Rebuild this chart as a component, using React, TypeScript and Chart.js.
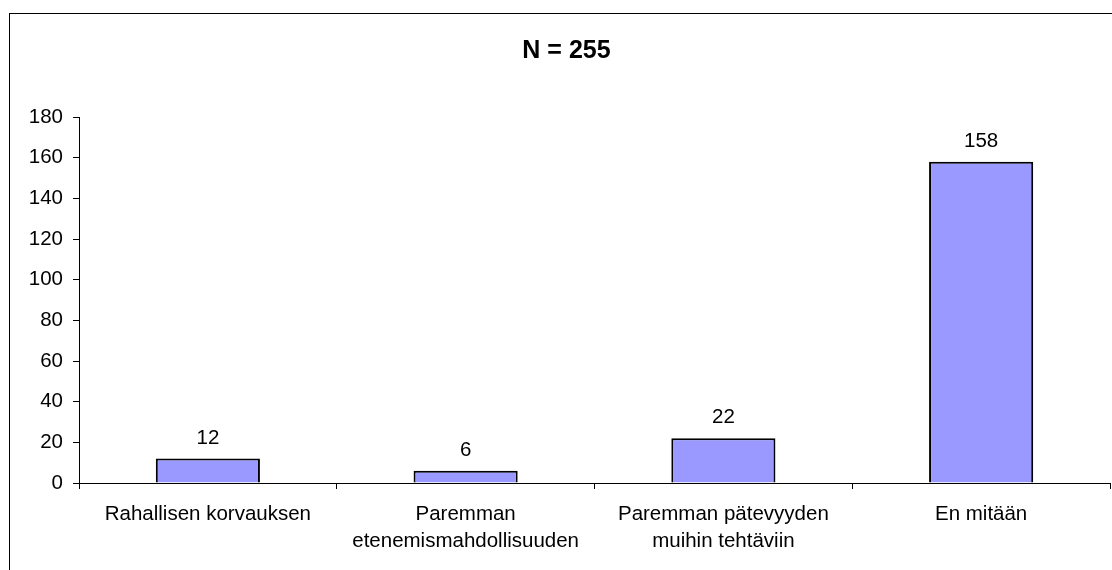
import React, { useEffect, useRef } from "react";
import { Chart, registerables } from "chart.js";

Chart.register(...registerables);

const categories: (string | string[])[] = [
  "Rahallisen korvauksen",
  ["Paremman", "etenemismahdollisuuden"],
  ["Paremman pätevyyden", "muihin tehtäviin"],
  "En mitään",
];
const values: number[] = [12, 6, 22, 158];
const titleText = "N = 255";
const yMin = 0;
const yMax = 180;
const yStep = 20;

const FONT = "'Liberation Sans', Arial, Helvetica, sans-serif";
const FS = 20.5;

const valueLabels = {
  id: "valueLabels",
  afterDatasetsDraw(chart: any) {
    const ctx = chart.ctx;
    const meta = chart.getDatasetMeta(0);
    ctx.save();
    ctx.font = `${FS}px ${FONT}`;
    ctx.fillStyle = "#000";
    ctx.textAlign = "center";
    ctx.textBaseline = "alphabetic";
    meta.data.forEach((bar: any, i: number) => {
      ctx.fillText(String(values[i]), bar.x, bar.y - 15);
    });
    ctx.restore();
  },
};

export default function App() {
  const ref = useRef<HTMLCanvasElement>(null);
  useEffect(() => {
    if (!ref.current) return;
    const chart = new Chart(ref.current, {
      type: "bar",
      data: {
        labels: categories,
        datasets: [
          {
            data: values,
            backgroundColor: "#9999FF",
            borderColor: "#000000",
            borderWidth: 2,
            barPercentage: 0.404,
            categoryPercentage: 1,
          },
        ],
      },
      options: {
        responsive: false,
        animation: false,
        devicePixelRatio: 1,
        layout: { padding: 0 },
        font: { family: FONT, size: FS },
        plugins: {
          legend: { display: false },
          tooltip: { enabled: false },
          title: {
            display: true,
            text: titleText,
            color: "#000",
            font: { family: FONT, size: 25, weight: "bold", lineHeight: 1.2 },
            padding: { top: 22, bottom: 51 },
          },
        },
        scales: {
          x: {
            grid: {
              display: true,
              offset: true,
              drawOnChartArea: false,
              drawTicks: true,
              tickLength: 6,
              color: "#000",
            },
            border: { display: true, color: "#000", width: 1 },
            ticks: {
              color: "#000",
              font: { family: FONT, size: FS, lineHeight: 1.32 },
              padding: 12,
              maxRotation: 0,
              autoSkip: false,
            },
            afterFit(scale: any) {
              scale.height = 87;
            },
          },
          y: {
            min: yMin,
            max: yMax,
            grid: {
              display: true,
              drawOnChartArea: false,
              drawTicks: true,
              tickLength: 6,
              color: "#000",
            },
            border: { display: true, color: "#000", width: 1 },
            ticks: {
              stepSize: yStep,
              color: "#000",
              font: { family: FONT, size: FS },
              padding: 10,
            },
            afterFit(scale: any) {
              scale.width = 69;
            },
          },
          spacer: {
            type: "linear",
            position: "right",
            display: true,
            grid: { display: false, drawTicks: false },
            border: { display: false },
            ticks: { display: false },
            afterFit(scale: any) {
              scale.width = 13;
            },
          },
        },
      } as any,
      plugins: [valueLabels],
    });
    return () => chart.destroy();
  }, []);

  return (
    <div
      style={{
        position: "fixed",
        left: 0,
        top: 0,
        width: 1112,
        height: 570,
        overflow: "hidden",
        background: "#fff",
      }}
    >
      <div
        style={{
          position: "absolute",
          left: 9,
          top: 13,
          width: 1113,
          height: 570,
          border: "1px solid #000",
        }}
      >
        <canvas ref={ref} width={1113} height={556} style={{ display: "block" }} />
      </div>
    </div>
  );
}
